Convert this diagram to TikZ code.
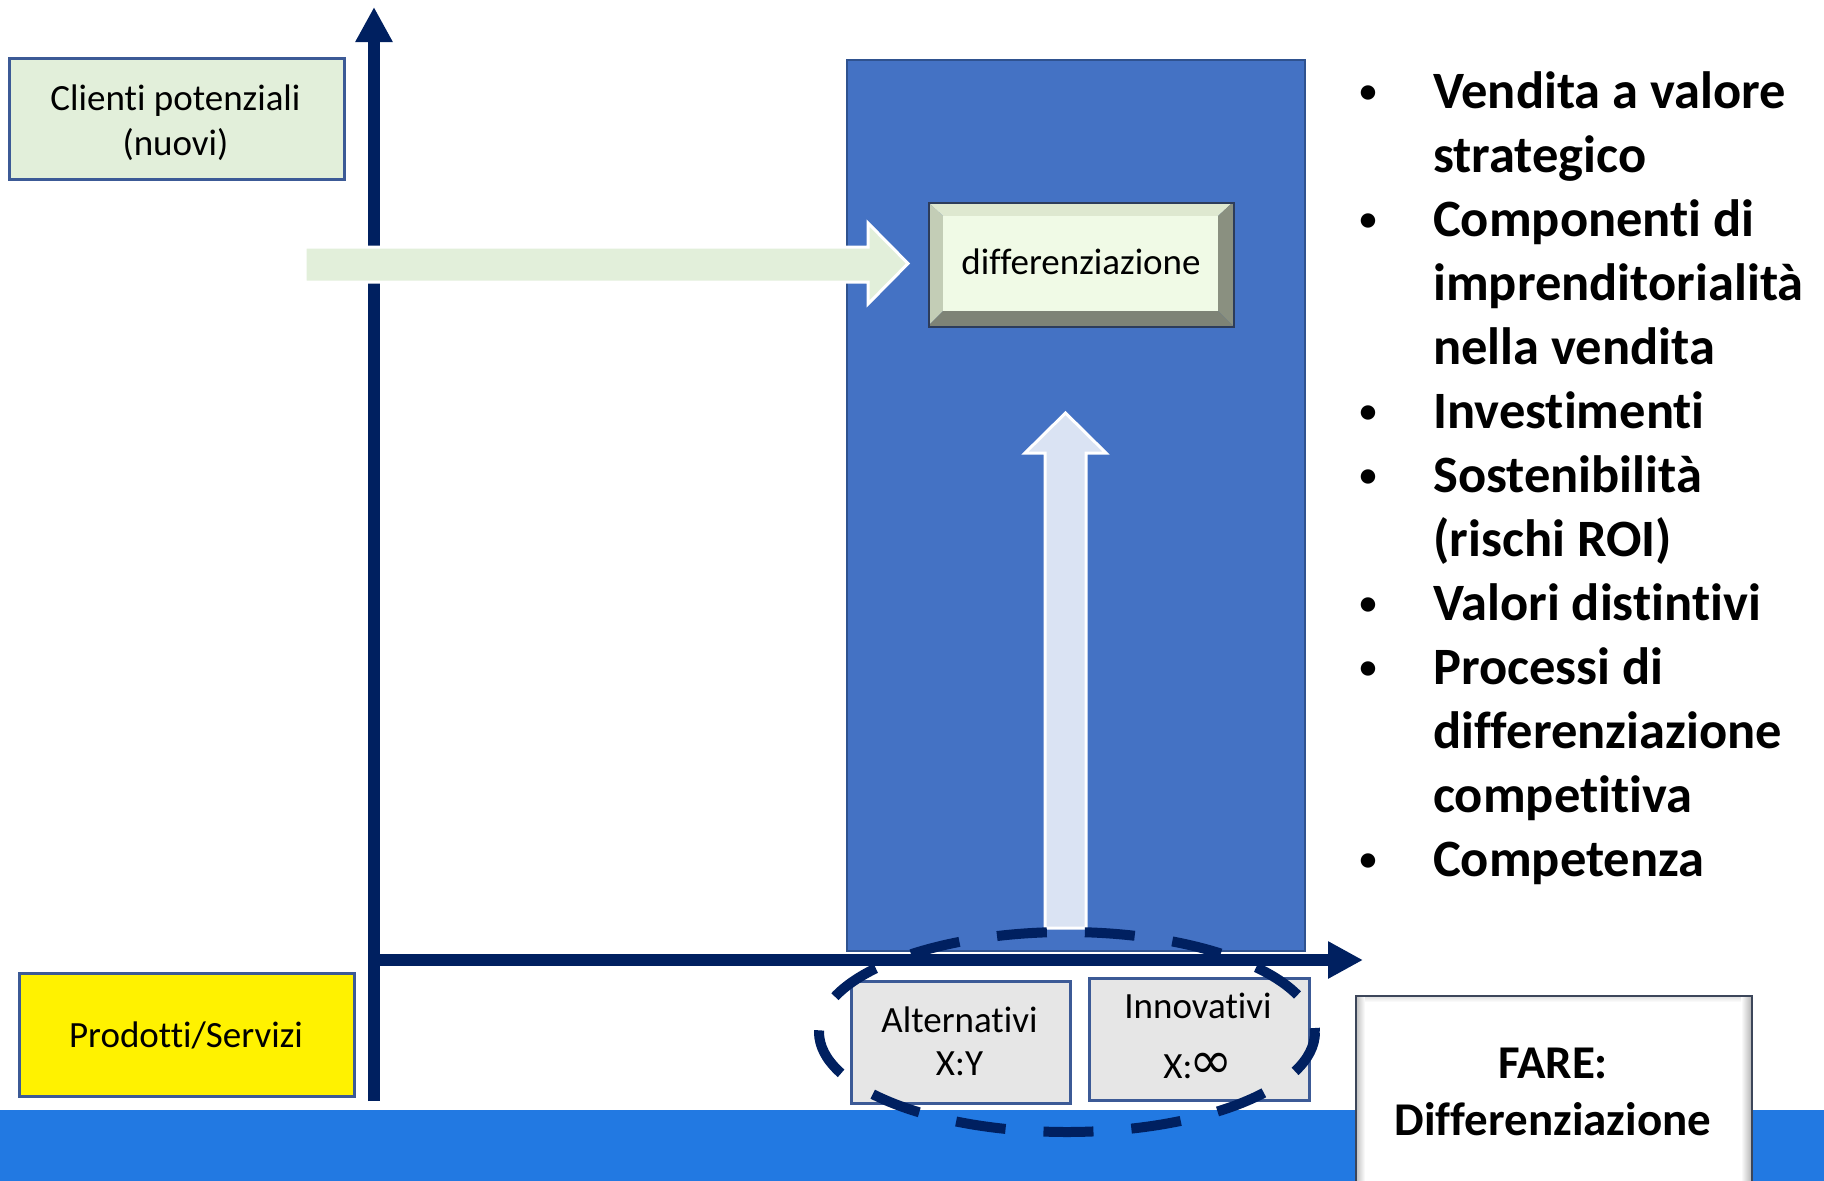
\documentclass[tikz,border=0pt]{standalone}
\usepackage{fontspec}
\setmainfont{Carlito}[Ligatures={NoCommon,NoRare,NoContextual}]
\newfontfamily\symfont{DejaVu Sans}
\usetikzlibrary{arrows.meta}
\definecolor{navy}{RGB}{0,32,96}
\definecolor{band}{RGB}{34,121,226}
\definecolor{rectblue}{RGB}{68,114,196}
\definecolor{rectborder}{RGB}{47,82,143}
\definecolor{boxborder}{RGB}{60,90,150}
\definecolor{cgreen}{RGB}{226,239,218}
\definecolor{upblue}{RGB}{218,227,243}
\definecolor{boxgray}{RGB}{230,230,230}
\definecolor{bvface}{RGB}{240,250,230}
\definecolor{bvtop}{RGB}{222,232,208}
\definecolor{bvleft}{RGB}{195,205,182}
\definecolor{bvright}{RGB}{138,144,128}
\definecolor{bvbottom}{RGB}{126,131,118}
\begin{document}
\begin{tikzpicture}[x=1pt,y=-1pt,
  lbl/.style={font=\fontsize{37}{44}\selectfont, inner sep=0pt, anchor=base},
  bultxt/.style={font=\fontsize{52.5}{64}\selectfont\bfseries, inner sep=0pt, anchor=base west},
  bulsym/.style={font=\fontsize{34}{40}\selectfont\bfseries, inner sep=0pt, anchor=base},
  boxst/.style={draw=boxborder, line width=2.5pt, inner sep=0pt, anchor=north west},
  axisline/.style={draw=navy, line width=12pt, -{Triangle[width=35pt,length=35pt]}},
  blockarrow/.style={draw=white, line width=3pt, line join=miter},
  farefont/.style={font=\fontsize{47}{56}\selectfont\bfseries, inner sep=0pt, anchor=base},
]
\useasboundingbox (0,0) rectangle (1824,1181);
\fill[white] (0,0) rectangle (1824,1181);
% bottom band
\fill[band] (0,1110) rectangle (1824,1181);
% blue rectangle
\node[draw=rectborder, fill=rectblue, line width=2pt, inner sep=0pt, anchor=north west,
      minimum width=458pt, minimum height=891pt] (bluerect) at (846,59) {};
% axes
\coordinate (vstart) at (374,1101);
\coordinate (vend) at (374,7);
\coordinate (hstart) at (368,960);
\coordinate (hend) at (1363,960);
\draw[axisline] (vstart) -- (vend);
\draw[axisline] (hstart) -- (hend);
% green block arrow
\filldraw[blockarrow, fill=cgreen] (305,247) -- (868,247) -- (868,223) -- (908,263.5)
   -- (868,304) -- (868,282) -- (305,282) -- cycle;
% up block arrow
\filldraw[blockarrow, fill=upblue] (1045,928) -- (1045,453) -- (1025,453) -- (1065.5,413)
   -- (1106,453) -- (1086,453) -- (1086,928) -- cycle;
% boxes
\node[boxst, fill=cgreen, minimum width=335pt, minimum height=121pt] (clienti) at (8,57) {};
\node[boxst, fill=yellow, minimum width=335pt, minimum height=123pt] (prodotti) at (18,972) {};
\node[boxst, fill=boxgray, minimum width=219pt, minimum height=122pt] (altern) at (850,980) {};
\node[boxst, fill=boxgray, minimum width=220pt, minimum height=122pt] (innov) at (1088,977) {};
% bevel box differenziazione
\fill[bvtop] (928,202) -- (1233,202) -- (1218,216) -- (943,216) -- cycle;
\fill[bvleft] (928,202) -- (943,216) -- (943,311) -- (928,326) -- cycle;
\fill[bvright] (1233,202) -- (1233,326) -- (1218,311) -- (1218,216) -- cycle;
\fill[bvbottom] (928,326) -- (943,311) -- (1218,311) -- (1233,326) -- cycle;
\fill[bvface] (943,216) rectangle (1218,311);
\node[draw={rgb,255:red,45;green,60;blue,90}, line width=2pt, inner sep=0pt, anchor=north west,
      minimum width=305pt, minimum height=124pt] (diffbox) at (928,202) {};
% FARE box
\fill[white] (1355,995) rectangle (1751,1190);
\shade[left color=gray!55, right color=white] (1355,995) rectangle (1365,1190);
\shade[left color=white, right color=gray!55] (1741,995) rectangle (1751,1190);
\shade[top color=gray!30, bottom color=white] (1365,995) rectangle (1741,1002);
\node[draw={rgb,255:red,60;green,70;blue,90}, line width=2pt, inner sep=0pt, anchor=north west,
      minimum width=396pt, minimum height=195pt] (farebox) at (1355,995) {};
% dashed ellipse
\draw[navy, line width=10pt, dash pattern=on 50pt off 38pt, dash phase=46pt]
   (1067,1032) ellipse [x radius=248pt, y radius=100pt];
% texts
\node[lbl] (t1) at (175.5,110) {Clienti potenziali};
\node[lbl] (t2) at (175.5,155) {(nuovi)};
\node[lbl] (t3) at (186,1047) {Prodotti/Servizi};
\node[lbl] (t4) at (1081,274) {differenziazione};
\node[lbl] (t5) at (959.5,1032) {Alternativi};
\node[lbl] (t6) at (959.5,1075) {X:Y};
\node[lbl] (t7) at (1198,1018) {Innovativi};
\node[lbl] (t8) at (1198,1078) {X:\kern-3pt{\symfont\fontsize{52}{52}\selectfont ∞}};
\node[farefont] (f1) at (1553,1078) {FARE:};
\node[farefont] (f2) at (1553,1135) {Differenziazione};
% bullets
\node[bulsym] (b1) at (1368,102) {•};
\node[bultxt] (l1) at (1433,108) {Vendita a valore};
\node[bultxt] (l2) at (1433,172) {strategico};
\node[bulsym] (b2) at (1368,230) {•};
\node[bultxt] (l3) at (1433,236) {Componenti di};
\node[bultxt] (l4) at (1433,300) {imprenditorialità};
\node[bultxt] (l5) at (1433,364) {nella vendita};
\node[bulsym] (b3) at (1368,422) {•};
\node[bultxt] (l6) at (1433,428) {Investimenti};
\node[bulsym] (b4) at (1368,486) {•};
\node[bultxt] (l7) at (1433,492) {Sostenibilità};
\node[bultxt] (l8) at (1433,556) {(rischi ROI)};
\node[bulsym] (b5) at (1368,614) {•};
\node[bultxt] (l9) at (1433,620) {Valori distintivi};
\node[bulsym] (b6) at (1368,678) {•};
\node[bultxt] (l10) at (1433,684) {Processi di};
\node[bultxt] (l11) at (1433,748) {differenziazione};
\node[bultxt] (l12) at (1433,812) {competitiva};
\node[bulsym] (b7) at (1368,870) {•};
\node[bultxt] (l13) at (1433,876) {Competenza};
\end{tikzpicture}
\end{document}
